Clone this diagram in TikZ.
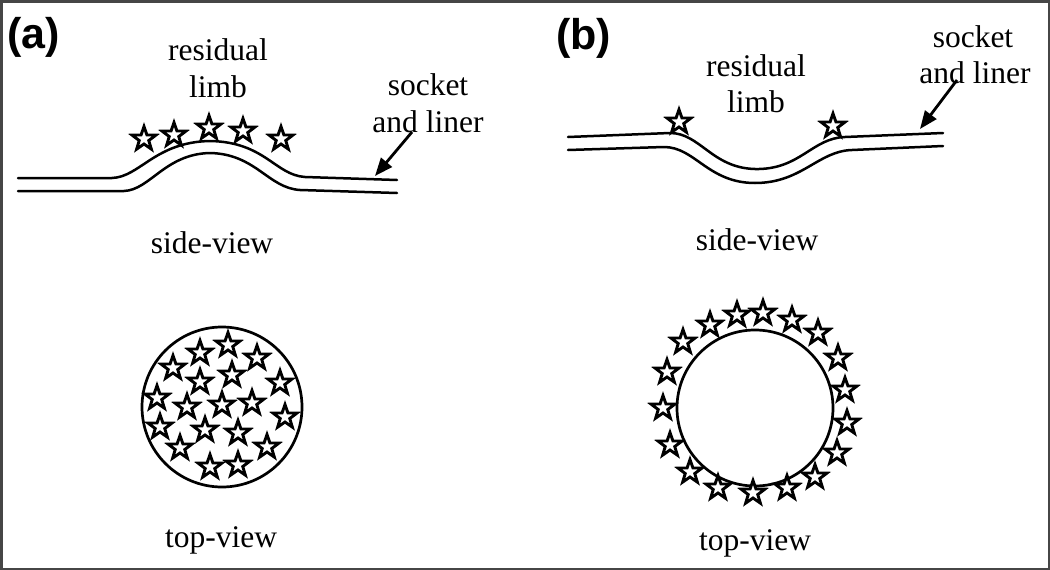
\documentclass[tikz,border=0pt]{standalone}
\usepackage{fontspec}
\setmainfont{Liberation Serif}
\newfontfamily\labfont{Liberation Sans}
\usetikzlibrary{arrows.meta}
\tikzset{
  lbl/.style={font=\fontsize{31.5}{37}\selectfont, inner sep=0pt, anchor=base},
  panel/.style={font=\labfont\bfseries\fontsize{43}{47}\selectfont, inner sep=0pt, anchor=base west},
  skin/.style={line width=2.5pt, line cap=round},
  ring/.style={line width=2.7pt},
  ptr/.style={line width=2.8pt, -{Triangle[length=18pt,width=14pt]}},
  starpic/.pic={\draw[line width=2.9pt, fill=white, line join=miter, miter limit=10]
     (270:12.5) -- (306:5) -- (342:12.5) -- (18:5) -- (54:12.5) -- (90:5)
     -- (126:12.5) -- (162:5) -- (198:12.5) -- (234:5) -- cycle;}
}
\begin{document}
\begin{tikzpicture}[x=1pt,y=-1pt]
\useasboundingbox (0,0) rectangle (1050,570);
\draw[gray!55!black, line width=2.5pt] (1.25,1.25) rectangle (1048.75,568.75);

% ---------------- panel (a) ----------------
\node[panel] (pa) at (7,48) {(a)};
\node[lbl] (ra1) at (218,60) {residual};
\node[lbl] (ra2) at (218,97) {limb};
\node[lbl] (sa1) at (428,95) {socket};
\node[lbl] (sa2) at (428,132) {and liner};

\draw[skin] (18,178) -- (112,178) .. controls (140,177) and (155,142) .. (210,141)
   .. controls (265,142) and (275,175) .. (305,177) -- (397,180);
\draw[skin] (18,191) -- (124,191) .. controls (150,190) and (165,154) .. (210,153)
   .. controls (256,154) and (268,188) .. (300,190) -- (397,193);

\foreach \p in {(144,139),(174,135),(209,128),(243,131),(281,139)}
  \pic at \p {starpic};

\coordinate (aa0) at (412,132);
\coordinate (aa1) at (375,176);
\draw[ptr] (aa0) -- (aa1);

\node[lbl] (sva) at (212,253) {side-view};

\draw[ring, fill=white] (222,407) circle[radius=80];
\foreach \p in {(228,345),(200,353),(257,358),(173,368),(232,375),(200,382),(280,383),
  (157,398),(187,407),(222,405),(252,403),(285,417),(160,427),(205,430),(238,433),
  (180,448),(267,447),(210,467),(238,465)}
  \pic at \p {starpic};

\node[lbl] (tva) at (221,547) {top-view};

% ---------------- panel (b) ----------------
\node[panel] (pb) at (556,49) {(b)};
\node[lbl] (rb1) at (756,76) {residual};
\node[lbl] (rb2) at (756,112) {limb};
\node[lbl] (sb1) at (973,47) {socket};
\node[lbl] (sb2) at (975,83) {and liner};

\draw[skin] (568,137) -- (670,133) .. controls (700,133) and (712,168) .. (755,169)
   .. controls (800,170) and (812,138) .. (845,137) -- (943,133);
\draw[skin] (568,150) -- (664,147) .. controls (695,147) and (708,183) .. (755,183)
   .. controls (802,183) and (818,151) .. (852,150) -- (943,146);

\foreach \p in {(679,122),(833,126)}
  \pic at \p {starpic};

\coordinate (ab0) at (957,80);
\coordinate (ab1) at (920,129);
\draw[ptr] (ab0) -- (ab1);

\node[lbl] (svb) at (757,250) {side-view};

\draw[ring] (755,408) circle[radius=78];
\foreach \p in {(737,315),(763,313),(792,320),(710,325),(818,333),(683,342),(838,358),
  (667,372),(845,390),(663,408),(847,423),(670,445),(837,453),(690,472),(815,477),
  (718,488),(753,493),(787,488)}
  \pic at \p {starpic};

\node[lbl] (tvb) at (755,550) {top-view};
\end{tikzpicture}
\end{document}
